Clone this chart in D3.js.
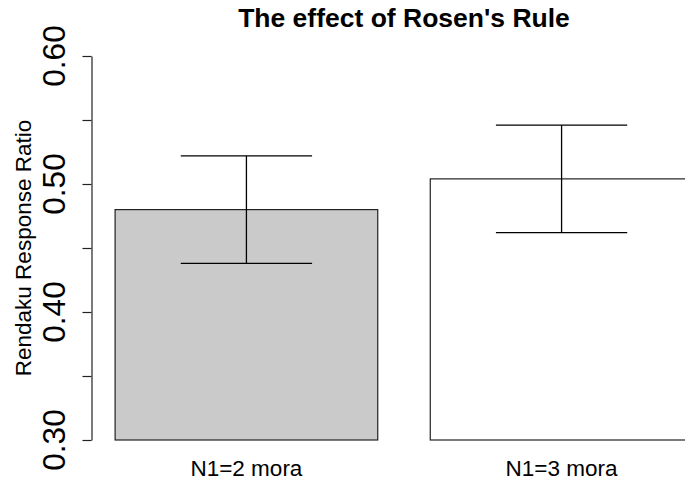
<!DOCTYPE html>
<html>
<head>
<meta charset="utf-8">
<script src="https://cdn.jsdelivr.net/npm/d3@7"></script>
<style>
  body { margin: 0; background: #fff; }
  svg { display: block; font-family: "Liberation Sans", Arial, Helvetica, sans-serif; }
</style>
</head>
<body>
<div id="chart"></div>
<script>
// data
var categories = ["N1=2 mora", "N1=3 mora"];
var ratios = [0.480, 0.504];
var errLow = [0.438, 0.462];
var errHigh = [0.522, 0.546];
var barFills = ["#c9cac9", "#ffffff"];
var yTicks = [0.30, 0.35, 0.40, 0.45, 0.50, 0.55, 0.60];
var yLabels = [0.30, 0.40, 0.50, 0.60];

var width = 685, height = 482;
var BAR_WIDTH = 1, SPACE = 0.2;

var svg = d3.select("#chart").append("svg")
    .attr("width", width)
    .attr("height", height);

// R barplot style x coordinates: bars of width 1 with 0.2 spacing, 4% padding
var lefts = categories.map(function (d, i) { return SPACE + i * (BAR_WIDTH + SPACE); });
var xMin = SPACE, xMax = lefts[lefts.length - 1] + BAR_WIDTH;
var pad = 0.04 * (xMax - xMin);
var x = d3.scaleLinear().domain([xMin - pad, xMax + pad]).range([92, 716]);
var y = d3.scaleLinear().domain([0.30, 0.60]).range([440, 56]);

// bars
svg.selectAll(".bar")
    .data(ratios)
    .enter()
    .append("rect")
    .attr("class", "bar")
    .attr("x", function (d, i) { return x(lefts[i]); })
    .attr("width", function (d, i) { return x(lefts[i] + BAR_WIDTH) - x(lefts[i]); })
    .attr("y", function (d) { return y(d); })
    .attr("height", function (d) { return y(0.30) - y(d); })
    .attr("fill", function (d, i) { return barFills[i]; })
    .attr("stroke", "#222")
    .attr("stroke-width", 1.2);

// error bars
var whisker = 0.25;
var err = svg.selectAll(".err")
    .data(ratios)
    .enter()
    .append("g")
    .attr("class", "err")
    .attr("stroke", "#000")
    .attr("stroke-width", 1.3)
    .attr("fill", "none");

err.append("line")
    .attr("x1", function (d, i) { return x(lefts[i] + BAR_WIDTH / 2); })
    .attr("x2", function (d, i) { return x(lefts[i] + BAR_WIDTH / 2); })
    .attr("y1", function (d, i) { return y(errLow[i]); })
    .attr("y2", function (d, i) { return y(errHigh[i]); });
err.append("line")
    .attr("x1", function (d, i) { return x(lefts[i] + BAR_WIDTH / 2 - whisker); })
    .attr("x2", function (d, i) { return x(lefts[i] + BAR_WIDTH / 2 + whisker); })
    .attr("y1", function (d, i) { return y(errHigh[i]); })
    .attr("y2", function (d, i) { return y(errHigh[i]); });
err.append("line")
    .attr("x1", function (d, i) { return x(lefts[i] + BAR_WIDTH / 2 - whisker); })
    .attr("x2", function (d, i) { return x(lefts[i] + BAR_WIDTH / 2 + whisker); })
    .attr("y1", function (d, i) { return y(errLow[i]); })
    .attr("y2", function (d, i) { return y(errLow[i]); });

// y axis
var yAxis = d3.axisLeft(y)
    .tickValues(yTicks)
    .tickSize(9)
    .tickSizeOuter(0)
    .tickFormat("");
var gy = svg.append("g")
    .attr("transform", "translate(91.5,0)")
    .call(yAxis);
gy.select(".domain").attr("stroke", "#222").attr("stroke-width", 1.2);
gy.selectAll(".tick line").attr("stroke", "#222").attr("stroke-width", 1.2);

svg.selectAll(".ylab")
    .data(yLabels)
    .enter()
    .append("text")
    .attr("class", "ylab")
    .attr("transform", function (d) { return "translate(65," + y(d) + ") rotate(-90)"; })
    .attr("text-anchor", "middle")
    .attr("font-size", 31.5)
    .attr("fill", "#000")
    .text(function (d) { return d3.format(".2f")(d); });

// x labels
svg.selectAll(".xlab")
    .data(categories)
    .enter()
    .append("text")
    .attr("class", "xlab")
    .attr("x", function (d, i) { return x(lefts[i] + BAR_WIDTH / 2); })
    .attr("y", 476)
    .attr("text-anchor", "middle")
    .attr("font-size", 22.5)
    .text(function (d) { return d; });

// axis title
svg.append("text")
    .attr("transform", "translate(30.5," + y(0.45) + ") rotate(-90)")
    .attr("text-anchor", "middle")
    .attr("font-size", 22.5)
    .text("Rendaku Response Ratio");

// title
svg.append("text")
    .attr("x", x((xMin + xMax) / 2))
    .attr("y", 27)
    .attr("text-anchor", "middle")
    .attr("font-size", 26.5)
    .attr("font-weight", "bold")
    .text("The effect of Rosen's Rule");
</script>
</body>
</html>
